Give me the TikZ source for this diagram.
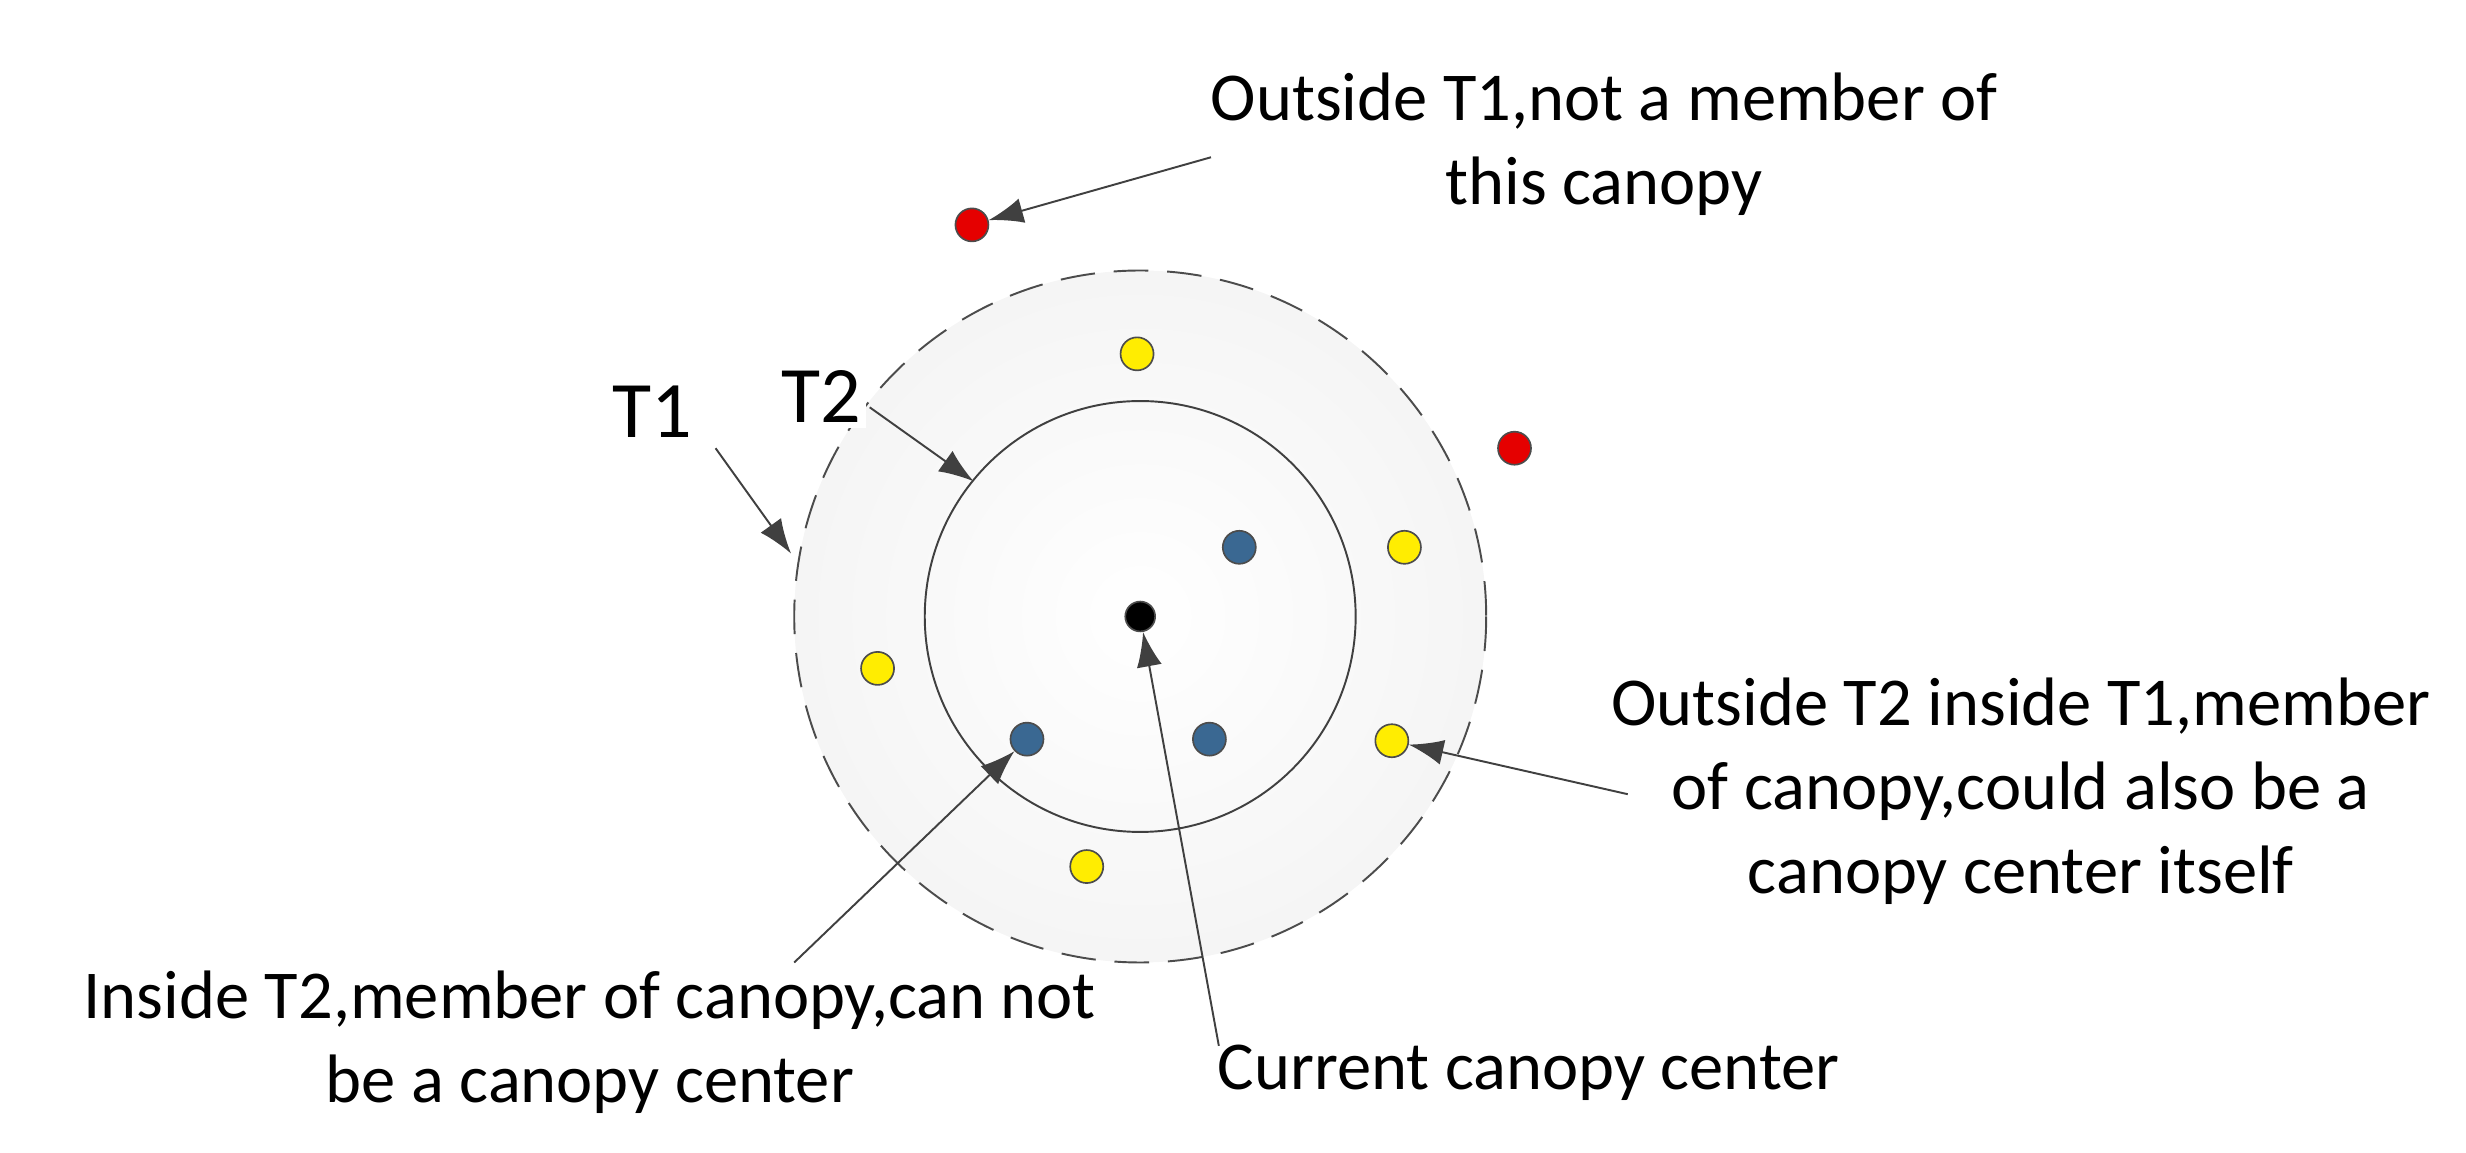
\documentclass[tikz,border=0pt]{standalone}
\usepackage{fontspec}
\setmainfont{Carlito}
\usetikzlibrary{arrows.meta}
\begin{document}
\begin{tikzpicture}[x=0.1mm,y=-0.1mm,
  lbl/.style={font=\fontsize{12.4}{15.2}\selectfont,align=center,text=black},
  arr/.style={draw=black!75,line width=0.35pt,-{Latex[length=2.2mm,width=1.6mm]}},
  dot/.style={circle,draw=black!70,line width=0.3pt,minimum size=2.1mm,inner sep=0pt},
  yel/.style={dot,fill=yellow!95!orange},
  blu/.style={dot,fill={rgb,255:red,58;green,104;blue,146}},
  red/.style={dot,fill=red!90!black}]
\useasboundingbox (0,0) rectangle (1568,733);
\coordinate (c) at (725,392);
\shade[inner color=white,outer color=black!4] (c) circle (220);
\draw[black!70,dash pattern=on 2.2mm off 1.2mm,line width=0.35pt] (c) circle (220);
\draw[black!75,line width=0.35pt] (c) circle (137);
\node[dot,fill=black,minimum size=1.9mm] (cc) at (c) {};
\node[blu] (b1) at (788,348) {};
\node[blu] (b2) at (653,470) {};
\node[blu] (b3) at (769,470) {};
\node[yel] (y1) at (723,225) {};
\node[yel] (y2) at (893,348) {};
\node[yel] (y3) at (558,425) {};
\node[yel] (y4) at (885,471) {};
\node[yel] (y5) at (691,551) {};
\node[red] (r1) at (618,143) {};
\node[red] (r2) at (963,285) {};
\node[lbl] (t1o) at (1020,92) {Outside T1,not a member of\\this canopy};
\coordinate (a1) at (770,100);
\draw[arr] (a1) -- (r1);
\node[lbl,font=\fontsize{14.5}{16}\selectfont] (T1) at (415,262) {T1};
\coordinate (a2s) at (455,285); \coordinate (a2e) at (503,352);
\draw[arr] (a2s) -- (a2e);
\node[lbl,font=\fontsize{14.5}{16}\selectfont,fill=white,inner sep=1pt] (T2) at (522,252) {T2};
\coordinate (k2) at (553,259); \coordinate (k3) at (619,306);
\draw[arr] (k2) -- (k3);
\node[lbl] (t2o) at (1285,503) {Outside T2 inside T1,member\\of canopy,could also be a\\canopy center itself};
\coordinate (a3) at (1035,505);
\draw[arr] (a3) -- (y4);
\node[lbl] (t2i) at (375,663) {Inside T2,member of canopy,can not\\be a canopy center};
\coordinate (a4) at (505,612);
\draw[arr] (a4) -- (b2);
\node[lbl] (cur) at (972,682) {Current canopy center};
\coordinate (a5) at (775,665);
\draw[arr] (a5) -- (cc);
\end{tikzpicture}
\end{document}
